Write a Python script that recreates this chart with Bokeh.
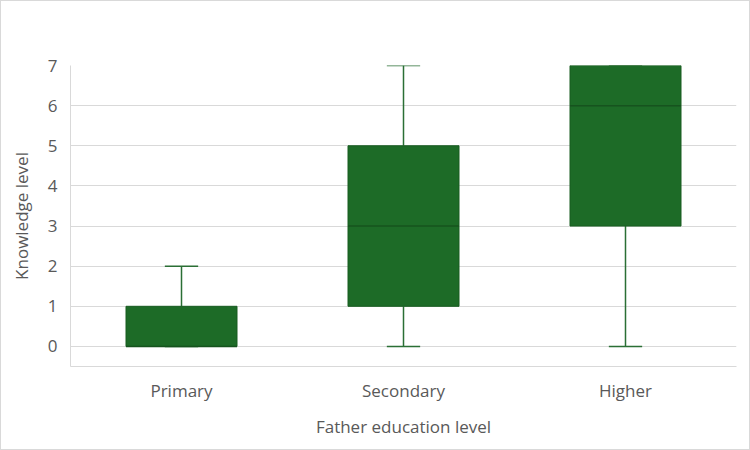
import numpy as np
from bokeh.plotting import figure
from bokeh.models import FixedTicker, Range1d
from bokeh.embed import file_html
from bokeh.resources import INLINE

categories = ["Primary", "Secondary", "Higher"]
lower = [0, 0, 0]
q1 = [0, 1, 3]
median = [0, 3, 6]
q3 = [1, 5, 7]
upper = [2, 7, 7]

x = np.arange(len(categories)) + 0.5
box_w = 0.5
cap_w = 0.15
fill = "#1d6b27"
edge = "#185c21"
whisk = "#2b6f35"
txt = "#595959"
grid = "#d9d9d9"
font = "Open Sans"

p = figure(width=750, height=450, output_backend="svg", toolbar_location=None,
           x_range=Range1d(0, 3), y_range=Range1d(-0.5, 7),
           min_border_left=69, min_border_right=15, min_border_top=64, min_border_bottom=85)
p.styles = {"border": "1px solid #d9d9d9", "box-sizing": "border-box"}
p.outline_line_color = None
p.xgrid.grid_line_color = None
p.ygrid.grid_line_color = grid
p.ygrid.grid_line_width = 1

# whiskers
p.segment(x0=x, x1=x, y0=q3, y1=upper, line_color=whisk, line_width=1.5)
p.segment(x0=x, x1=x, y0=lower, y1=q1, line_color=whisk, line_width=1.5)
p.segment(x0=x - cap_w / 2, x1=x + cap_w / 2, y0=upper, y1=upper, line_color=whisk, line_width=1.5)
p.segment(x0=x - cap_w / 2, x1=x + cap_w / 2, y0=lower, y1=lower, line_color=whisk, line_width=1.5)
# boxes
p.vbar(x=x, width=box_w, bottom=q1, top=q3, fill_color=fill, line_color=edge, line_width=1)
# medians
p.segment(x0=x - box_w / 2, x1=x + box_w / 2, y0=median, y1=median, line_color="#16531e", line_width=1.5)

p.yaxis.ticker = FixedTicker(ticks=list(range(0, 8)))
p.xaxis.ticker = FixedTicker(ticks=list(x))
p.xaxis.major_label_overrides = {float(xi): c for xi, c in zip(x, categories)}

for ax in (p.xaxis[0], p.yaxis[0]):
    ax.major_tick_line_color = None
    ax.minor_tick_line_color = None
    ax.major_tick_out = 0
    ax.major_tick_in = 0
    ax.minor_tick_out = 0
    ax.major_label_text_font = font
    ax.major_label_text_font_size = "17px"
    ax.major_label_text_color = txt
    ax.axis_label_text_font = font
    ax.axis_label_text_font_size = "17px"
    ax.axis_label_text_color = txt
    ax.axis_label_text_font_style = "normal"
    ax.axis_line_color = grid
    ax.axis_line_width = 1

p.xaxis.axis_label = "Father education level"
p.yaxis.axis_label = "Knowledge level"
p.yaxis.major_label_standoff = 13
p.xaxis.major_label_standoff = 12
p.xaxis.axis_label_standoff = 10
p.yaxis.axis_label_standoff = 12

open("out.html", "w").write(file_html(p, INLINE))
